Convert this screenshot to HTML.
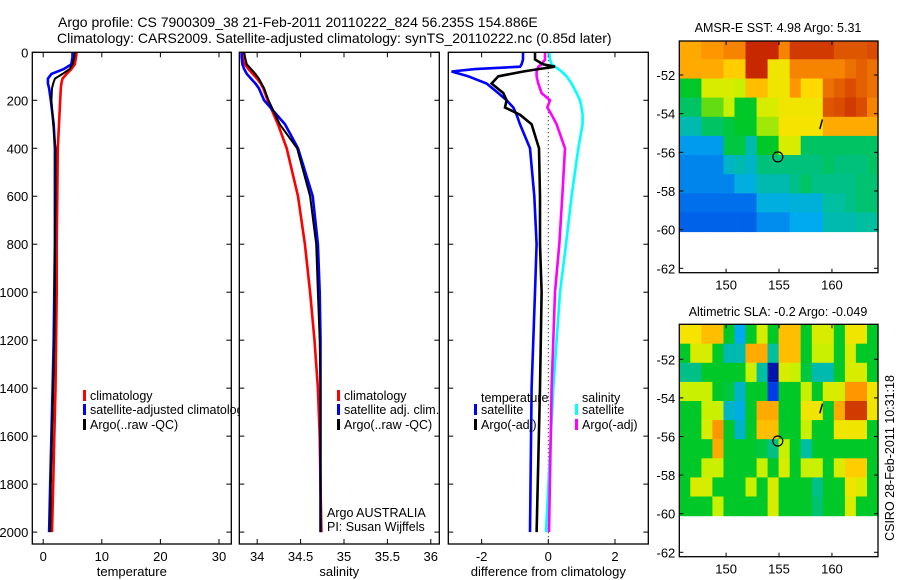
<!DOCTYPE html>
<html><head><meta charset="utf-8"><style>
html,body{margin:0;padding:0;background:#fff}
svg{display:block;font-family:"Liberation Sans",sans-serif}
</style></head><body>
<svg id="c" width="900" height="580" viewBox="0 0 900 580">
<defs><clipPath id="legclip"><rect x="0" y="380" width="238.5" height="60"/></clipPath></defs>
<text x="58" y="27" font-size="14">Argo profile: CS 7900309_38 21-Feb-2011 20110222_824 56.235S 154.886E</text>
<text x="57" y="43" font-size="14">Climatology: CARS2009. Satellite-adjusted climatology: synTS_20110222.nc (0.85d later)</text>
<text x="778" y="32" font-size="12.5" text-anchor="middle">AMSR-E SST: 4.98 Argo: 5.31</text>
<text x="778" y="316" font-size="12.5" text-anchor="middle">Altimetric SLA: -0.2 Argo: -0.049</text>
<text transform="translate(894,458) rotate(-90)" font-size="12.5" text-anchor="middle">CSIRO 28-Feb-2011 10:31:18</text>
</svg>
<script>
// ---- profile data ----
const depths = [0,20,50,70,90,110,130,150,200,300,400,600,800,1000,1200,1400,1600,1800,2000];
const climT = [5.7,5.6,5.4,4.8,4.0,3.3,3.1,3.0,2.9,2.7,2.5,2.4,2.3,2.3,2.2,2.1,1.9,1.7,1.5];
const satT  = [5.0,5.0,4.8,3.5,1.4,0.8,0.8,1.0,1.3,1.8,2.0,2.0,2.0,1.9,1.8,1.6,1.4,1.2,1.0];
const argoT = [5.4,5.3,5.0,4.5,3.3,2.0,1.7,1.5,1.4,1.7,2.1,2.1,2.0,2.0,1.9,1.7,1.5,1.3,1.2];
const climS = [33.83,33.84,33.86,33.9,33.95,34.0,34.04,34.07,34.12,34.24,34.34,34.47,34.55,34.61,34.66,34.70,34.72,34.73,34.74];
const satS  = [33.82,33.82,33.83,33.85,33.88,33.93,33.98,34.02,34.08,34.32,34.47,34.64,34.70,34.72,34.73,34.73,34.73,34.73,34.73];
const argoS = [33.85,33.86,33.88,33.93,33.98,34.02,34.05,34.08,34.13,34.26,34.46,34.61,34.68,34.70,34.72,34.73,34.73,34.73,34.73];
const diffDepths = [0,30,50,60,70,80,100,130,170,200,230,260,300,400,600,800,1000,1400,2000];
const diffTsat  = [-0.76,-0.76,-0.8,-0.85,-2.2,-2.9,-2.4,-1.85,-1.5,-1.25,-1.05,-0.95,-0.85,-0.55,-0.42,-0.35,-0.4,-0.5,-0.55];
const diffTargo = [-0.4,-0.4,-0.16,0.2,-0.3,-0.75,-1.5,-1.7,-1.35,-1.25,-1.3,-0.85,-0.5,-0.28,-0.25,-0.25,-0.2,-0.25,-0.35];
const diffSsat  = [0.03,0.05,0.1,0.2,0.3,0.4,0.55,0.7,0.85,0.95,1.0,1.03,1.03,0.9,0.7,0.53,0.35,0.15,-0.07];
const diffSargo = [-0.1,-0.1,-0.2,-0.3,-0.33,-0.35,-0.35,-0.3,-0.2,0.05,-0.03,0.1,0.25,0.5,0.42,0.33,0.2,0.1,0.02];
const depthTicks = [0,200,400,600,800,1000,1200,1400,1600,1800,2000];
const tempTicks = [0,10,20,30];
const salTicks = [34,34.5,35,35.5,36];
const salTickLabels = ["34","34.5","35","35.5","36"];
const diffTicks = [-2,0,2];
// ---- map data (rows N->S, cols W->E), colour index 0..1 ----
const sstGrid = [
[0.75,0.75,0.78,0.78,0.8,0.8,0.9,0.9,0.9,0.8,0.88,0.88,0.88,0.88,0.85,0.85,0.85,0.86],
[0.75,0.75,0.75,0.75,0.7,0.7,0.9,0.9,0.65,0.65,0.8,0.8,0.8,0.8,0.8,0.82,0.84,0.82],
[0.5,0.5,0.62,0.62,0.62,0.6,0.72,0.72,0.65,0.65,0.78,0.68,0.68,0.82,0.84,0.86,0.84,0.82],
[0.45,0.45,0.55,0.55,0.6,0.5,0.5,0.62,0.62,0.65,0.65,0.65,0.65,0.85,0.86,0.88,0.86,0.8],
[0.38,0.38,0.45,0.45,0.48,0.5,0.5,0.58,0.58,0.66,0.66,0.66,0.66,0.75,0.75,0.75,0.75,0.75],
[0.28,0.28,0.28,0.28,0.48,0.48,0.38,0.5,0.5,0.62,0.62,0.45,0.45,0.45,0.45,0.45,0.45,0.45],
[0.25,0.25,0.25,0.25,0.35,0.38,0.35,0.43,0.43,0.43,0.43,0.43,0.43,0.45,0.43,0.43,0.43,0.45],
[0.25,0.25,0.25,0.25,0.25,0.32,0.32,0.38,0.38,0.38,0.42,0.45,0.42,0.42,0.42,0.42,0.44,0.44],
[0.22,0.22,0.22,0.22,0.22,0.22,0.22,0.32,0.32,0.32,0.33,0.33,0.33,0.4,0.4,0.42,0.44,0.44],
[0.2,0.2,0.2,0.2,0.2,0.2,0.2,0.26,0.26,0.26,0.3,0.3,0.3,0.38,0.38,0.38,0.4,0.4]];
const slaGrid = [
[0.66,0.66,0.72,0.72,0.5,0.3,0.5,0.62,0.5,0.72,0.72,0.5,0.62,0.62,0.5,0.65,0.65,0.5],
[0.5,0.62,0.62,0.5,0.38,0.38,0.75,0.75,0.4,0.72,0.72,0.5,0.6,0.6,0.5,0.62,0.5,0.5],
[0.42,0.42,0.5,0.5,0.5,0.5,0.6,0.4,0.05,0.62,0.6,0.48,0.38,0.38,0.5,0.62,0.62,0.5],
[0.6,0.6,0.6,0.5,0.48,0.35,0.5,0.5,0.15,0.5,0.5,0.6,0.5,0.62,0.62,0.78,0.78,0.65],
[0.5,0.5,0.6,0.6,0.35,0.32,0.5,0.75,0.75,0.5,0.5,0.65,0.65,0.5,0.75,0.88,0.88,0.65],
[0.5,0.5,0.62,0.78,0.5,0.35,0.5,0.72,0.72,0.5,0.5,0.6,0.5,0.5,0.65,0.65,0.65,0.5],
[0.5,0.5,0.5,0.75,0.5,0.5,0.5,0.48,0.42,0.6,0.5,0.4,0.5,0.5,0.5,0.5,0.5,0.5],
[0.5,0.5,0.6,0.6,0.5,0.5,0.5,0.6,0.5,0.62,0.5,0.6,0.6,0.5,0.62,0.7,0.7,0.5],
[0.5,0.62,0.62,0.5,0.5,0.5,0.6,0.5,0.62,0.5,0.5,0.5,0.42,0.5,0.5,0.65,0.62,0.5],
[0.5,0.5,0.5,0.6,0.5,0.5,0.5,0.5,0.62,0.5,0.5,0.5,0.44,0.5,0.5,0.62,0.5,0.5]];
const lonTicks = [150,155,160];
const latTicks = [-52,-54,-56,-58,-60,-62];
const floatLon = 154.886, floatLat = -56.235;

const svg = document.getElementById('c');
const NS = 'http://www.w3.org/2000/svg';
function mk(tag, attrs, parent){ const e=document.createElementNS(NS,tag); for(const k in attrs) e.setAttribute(k,attrs[k]); (parent||svg).appendChild(e); return e; }
function txt(x,y,s,size,anchor,parent){ const t=mk('text',{x:x,y:y,'font-size':size,'text-anchor':anchor||'start'},parent); t.textContent=s; return t; }

const yTop=52.3, yPerM=0.2399;
function yD(d){ return yTop + d*yPerM; }
const Ybot=544;

function panel(name, x0, x1, dmin, dmax, xticks, xlabels, xlabel, showY){
  const g=mk('g',{});
  
  
  const sx=v=> x0 + (v-dmin)/(dmax-dmin)*(x1-x0);
  xticks.forEach((v,i)=>{
    const x=sx(v);
    mk('line',{x1:x,x2:x,y1:Ybot,y2:Ybot-5,stroke:'#000'},g);
    mk('line',{x1:x,x2:x,y1:yTop,y2:yTop+5,stroke:'#000'},g);
    const t=txt(x,561,xlabels[i],13,'middle',g);
    
    
  });
  depthTicks.forEach(d=>{
    const y=yD(d);
    mk('line',{x1:x0,x2:x0+5,y1:y,y2:y,stroke:'#000'},g);
    mk('line',{x1:x1,x2:x1-5,y1:y,y2:y,stroke:'#000'},g);
    if(showY){ const t=txt(x0-4,y+5,String(d),13,'end',g);
      
       }
  });
  const lt=txt((x0+x1)/2,576,xlabel,13,'middle',g);
  
  
  return {g,sx};
}
function line(p, xs, ds, color, name, w){
  const pts=xs.map((v,i)=>p.sx(v).toFixed(1)+','+yD(ds[i]).toFixed(1)).join(' ');
  const pl=mk('polyline',{points:pts,fill:'none',stroke:color,'stroke-width':w||2.6,'stroke-linejoin':'miter'},p.g);
  
  
}
function frame(p,x0,x1){ mk('rect',{x:x0,y:yTop,width:x1-x0,height:Ybot-yTop,fill:'none',stroke:'#000','stroke-width':1.3},p.g); }
function legend(g, x, y, color, label){
  mk('rect',{x:x,y:y-8,width:3,height:11,fill:color},g);
  const t=txt(x+7,y+2,label,12.5,'start',g);
  
  
}

// Panel 1 temperature
const p1=panel('temperature-panel',32.3,231.3,-1.86,32.1,tempTicks,tempTicks.map(String),'temperature',true);
line(p1,climT,depths,'#f00','climatology-temp-line');
line(p1,satT,depths,'#00f','satellite-temp-line');
line(p1,argoT,depths,'#000','argo-temp-line',2);
frame(p1,32.3,231.3);
const leg1=mk('g',{'clip-path':'url(#legclip)'});


legend(leg1,83,398,'#f00','climatology');
legend(leg1,83,412,'#00f','satellite-adjusted climatology');
legend(leg1,83,427,'#000','Argo(..raw -QC)');

// Panel 2 salinity
const p2=panel('salinity-panel',239.3,439.3,33.794,36.098,salTicks,salTickLabels,'salinity',false);
line(p2,climS,depths,'#f00','climatology-sal-line');
line(p2,satS,depths,'#00f','satellite-sal-line');
line(p2,argoS,depths,'#000','argo-sal-line',2);
frame(p2,239.3,439.3);
legend(p2.g,337,398,'#f00','climatology');
legend(p2.g,337,412,'#00f','satellite adj. clim.');
legend(p2.g,337,427,'#000','Argo(..raw -QC)');
txt(327,517,'Argo AUSTRALIA',12.5,'start',p2.g);
txt(327,531,'PI: Susan Wijffels',12.5,'start',p2.g);

// Panel 3 difference
const p3=panel('difference-panel',448.3,648.3,-3,3,diffTicks,diffTicks.map(String),'difference from climatology',false);
const zl=mk('line',{x1:p3.sx(0),x2:p3.sx(0),y1:yTop,y2:Ybot,stroke:'#000','stroke-dasharray':'1,3'},p3.g);


line(p3,diffSsat,diffDepths,'#0ff','salinity-satellite-diff-line');
line(p3,diffSargo,diffDepths,'#f0f','salinity-argo-diff-line');
line(p3,diffTsat,diffDepths,'#00f','temperature-satellite-diff-line');
line(p3,diffTargo,diffDepths,'#000','temperature-argo-diff-line');
frame(p3,448.3,648.3);
txt(481,402,'temperature',12.5,'start',p3.g);
txt(582,402,'salinity',12.5,'start',p3.g);
legend(p3.g,474,412,'#00f','satellite');
legend(p3.g,474,427,'#000','Argo(-adj)');
legend(p3.g,575,412,'#0ff','satellite');
legend(p3.g,575,427,'#f0f','Argo(-adj)');

// colormap
const stops=[[0,[0,0,140]],[0.15,[0,60,230]],[0.3,[0,170,240]],[0.4,[0,190,160]],[0.5,[0,200,40]],[0.6,[200,240,0]],[0.67,[255,225,0]],[0.78,[255,150,0]],[0.9,[200,40,0]],[1,[140,0,0]]];
function cmap(v){
  for(let i=1;i<stops.length;i++){ if(v<=stops[i][0]){ const a=stops[i-1],b=stops[i],t=(v-a[0])/(b[0]-a[0]);
    return 'rgb('+a[1].map((c,k)=>Math.round(c+(b[1][k]-c)*t)).join(',')+')'; } }
  return 'rgb(140,0,0)';
}
function map(name, grid, top, bottom, latAt52, latAt62){
  const g=mk('g',{});
  
  
  const L=679.3,R=878;
  const lon0=145.58, lon1=164.35;
  const sx=lo=>L+(lo-lon0)/(lon1-lon0)*(R-L);
  const sy=la=>latAt52+(la+52)/(-10)*(latAt62-latAt52);
  const latN=-50.2, latS=-60.1;
  const rows=grid.length, cols=grid[0].length;
  const dLon=(lon1-lon0)/cols, dLat=(latN-latS)/rows;
  grid.forEach((row,r)=>row.forEach((v,c)=>{
    const x=sx(lon0+c*dLon), y=Math.max(top,sy(latN-r*dLat));
    const cell=mk('rect',{x:x.toFixed(1),y:y.toFixed(1),width:(sx(lon0+(c+1)*dLon)-x+0.6).toFixed(1),height:(sy(latN-(r+1)*dLat)-y+0.6).toFixed(1),fill:cmap(v)},g);
    
    
  }));
  mk('rect',{x:L,y:top,width:R-L,height:bottom-top,fill:'none',stroke:'#000','stroke-width':1.3},g);
  lonTicks.forEach(lo=>{ const x=sx(lo);
    mk('line',{x1:x,x2:x,y1:bottom,y2:bottom-4,stroke:'#000'},g);
    mk('line',{x1:x,x2:x,y1:top,y2:top+4,stroke:'#000'},g);
    txt(x,bottom+17,String(lo),13,'middle',g); });
  latTicks.forEach(la=>{ const y=sy(la);
    mk('line',{x1:L,x2:L+4,y1:y,y2:y,stroke:'#000'},g);
    mk('line',{x1:R,x2:R-4,y1:y,y2:y,stroke:'#000'},g);
    txt(L-4,y+5,String(la),13,'end',g); });
  const c=mk('circle',{cx:sx(floatLon),cy:sy(floatLat),r:5,fill:'none',stroke:'#000','stroke-width':1.2},g);
  
  
  mk('line',{x1:sx(159.1),y1:sy(-54.3),x2:sx(158.85),y2:sy(-54.8),stroke:'#000','stroke-width':1.5},g);
}
map('sst-map',sstGrid,41,272.7,75,268.3);
map('sla-map',slaGrid,324.3,556.7,359.3,552.3);
</script>
</body></html>
